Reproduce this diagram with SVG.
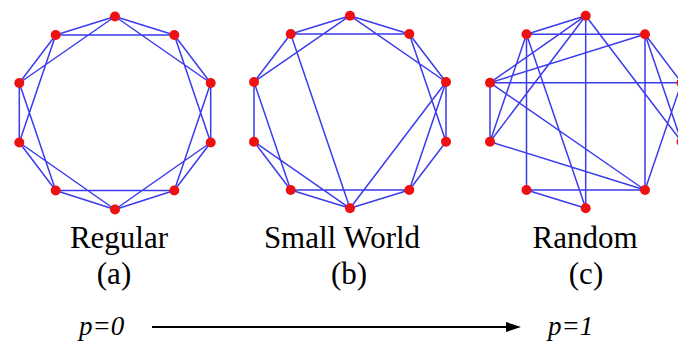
<svg xmlns="http://www.w3.org/2000/svg" width="678" height="344" viewBox="0 0 678 344">
<style>
.e{stroke:#3b3bee;stroke-width:1.5;fill:none;stroke-linecap:round}
.n{fill:#ee1111}
</style>
<defs>
<marker id="ah" markerUnits="userSpaceOnUse" markerWidth="16" markerHeight="12" refX="2" refY="6" orient="auto">
<path d="M0,1 L15,6 L0,11 Z" fill="#000"/>
</marker>
</defs>
<rect width="678" height="344" fill="#fff"/>

<!-- Graph (a) Regular -->
<g id="edges-a">
<path class="e" d="M115,16.5L174.3,35 M174.3,35L210.7,83 M210.7,83L210.7,142.5 M210.7,142.5L174.3,190.5 M174.3,190.5L115,209.5 M115,209.5L55.7,190.5 M55.7,190.5L19.3,142.5 M19.3,142.5L19.3,83 M19.3,83L55.7,35 M55.7,35L115,16.5"/>
<path class="e" d="M115,16.5L210.7,83 M174.3,35L210.7,142.5 M210.7,83L174.3,190.5 M210.7,142.5L115,209.5 M174.3,190.5L55.7,190.5 M115,209.5L19.3,142.5 M55.7,190.5L19.3,83 M19.3,142.5L55.7,35 M19.3,83L115,16.5 M55.7,35L174.3,35"/>
</g>
<g id="a-n0"><circle class="n" cx="115" cy="16.5" r="5"/></g>
<g id="a-n1"><circle class="n" cx="174.3" cy="35" r="5"/></g>
<g id="a-n2"><circle class="n" cx="210.7" cy="83" r="5"/></g>
<g id="a-n3"><circle class="n" cx="210.7" cy="142.5" r="5"/></g>
<g id="a-n4"><circle class="n" cx="174.3" cy="190.5" r="5"/></g>
<g id="a-n5"><circle class="n" cx="115" cy="209.5" r="5"/></g>
<g id="a-n6"><circle class="n" cx="55.7" cy="190.5" r="5"/></g>
<g id="a-n7"><circle class="n" cx="19.3" cy="142.5" r="5"/></g>
<g id="a-n8"><circle class="n" cx="19.3" cy="83" r="5"/></g>
<g id="a-n9"><circle class="n" cx="55.7" cy="35" r="5"/></g>

<!-- Graph (b) Small World -->
<g id="edges-b">
<path class="e" d="M350,15.7L290.7,34 M350,15.7L409.3,34 M350,15.7L254,82 M350,15.7L446,82 M290.7,34L409.3,34 M290.7,34L254,82 M290.7,34L350,208.3 M409.3,34L446,82 M409.3,34L446,141.7 M446,82L446,141.7 M446,82L409.3,190 M446,82L350,208.3 M446,141.7L409.3,190 M254,82L254,141.7 M254,82L290.7,190 M254,141.7L290.7,190 M254,141.7L350,208.3 M290.7,190L409.3,190 M290.7,190L350,208.3 M409.3,190L350,208.3"/>
</g>
<g id="b-n0"><circle class="n" cx="350" cy="15.7" r="5"/></g>
<g id="b-n1"><circle class="n" cx="409.3" cy="34" r="5"/></g>
<g id="b-n2"><circle class="n" cx="446" cy="82" r="5"/></g>
<g id="b-n3"><circle class="n" cx="446" cy="141.7" r="5"/></g>
<g id="b-n4"><circle class="n" cx="409.3" cy="190" r="5"/></g>
<g id="b-n5"><circle class="n" cx="350" cy="208.3" r="5"/></g>
<g id="b-n6"><circle class="n" cx="290.7" cy="190" r="5"/></g>
<g id="b-n7"><circle class="n" cx="254" cy="141.7" r="5"/></g>
<g id="b-n8"><circle class="n" cx="254" cy="82" r="5"/></g>
<g id="b-n9"><circle class="n" cx="290.7" cy="34" r="5"/></g>

<!-- Graph (c) Random -->
<g id="edges-c">
<path class="e" d="M585.7,15.7L526.5,34.3 M585.7,15.7L490,82.7 M585.7,15.7L490,141.7 M585.7,15.7L585.7,208.3 M585.7,15.7L681.5,141.7 M526.5,34.3L645,34.3 M526.5,34.3L490,141.7 M526.5,34.3L526.5,190 M526.5,34.3L585.7,208.3 M645,34.3L490,82.7 M645,34.3L645,190 M645,34.3L681.5,82.7 M645,34.3L681.5,141.7 M490,82.7L681.5,82.7 M490,82.7L490,141.7 M490,82.7L645,190 M490,141.7L645,190 M526.5,190L645,190 M526.5,190L585.7,208.3 M645,190L681.5,82.7"/>
</g>
<g id="c-n0"><circle class="n" cx="585.7" cy="15.7" r="5"/></g>
<g id="c-n1"><circle class="n" cx="645" cy="34.3" r="5"/></g>
<g id="c-n2"><circle class="n" cx="681.5" cy="82.7" r="5"/></g>
<g id="c-n3"><circle class="n" cx="681.5" cy="141.7" r="5"/></g>
<g id="c-n4"><circle class="n" cx="645" cy="190" r="5"/></g>
<g id="c-n5"><circle class="n" cx="585.7" cy="208.3" r="5"/></g>
<g id="c-n6"><circle class="n" cx="526.5" cy="190" r="5"/></g>
<g id="c-n7"><circle class="n" cx="490" cy="141.7" r="5"/></g>
<g id="c-n8"><circle class="n" cx="490" cy="82.7" r="5"/></g>
<g id="c-n9"><circle class="n" cx="526.5" cy="34.3" r="5"/></g>

<!-- Labels -->
<g id="labels" font-family="Liberation Serif, DejaVu Serif, serif" fill="#000">
<g font-size="31" text-anchor="middle">
<text x="119" y="248">Regular</text>
<text x="114" y="284">(a)</text>
<text x="342" y="248">Small World</text>
<text x="349" y="284">(b)</text>
<text x="585" y="248">Random</text>
<text x="586" y="284">(c)</text>
</g>
<g font-size="27" font-style="italic">
<text x="79" y="335">p=0</text>
<text x="548" y="335">p=1</text>
</g>
</g>

<g id="axis">
<line x1="152" y1="327" x2="508" y2="327" stroke="#000" stroke-width="2" marker-end="url(#ah)"/>
</g>
</svg>
